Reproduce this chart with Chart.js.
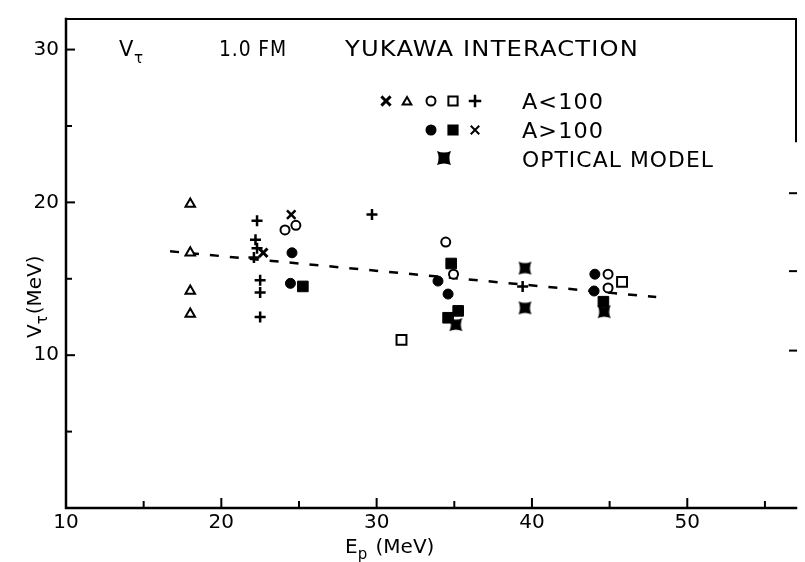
<!DOCTYPE html>
<html><head><meta charset="utf-8">
<script src="https://cdn.jsdelivr.net/npm/chart.js@4.4.1/dist/chart.umd.min.js"></script>
<style>html,body{margin:0;padding:0;background:#fff}#wrap{width:805px;height:562px;position:relative}</style>
</head><body><div id="wrap"><canvas id="c" width="805" height="562"></canvas></div>
<script>
// ---- tick definitions ----
const xTickMarks = [15,20,25,30,35,40,45,50,55];
const xTickLabels = [10,20,30,40,50];
const yTickMarks = [5,10,15,20,25,30];
const yTickLabels = [10,20,30];
const rightTickMarks = [20.6,15.5,10.3];

// ---- data (E_p MeV, V_tau MeV) ----
// A < 100
const triOpen   = [{x:18.0,y:19.9},{x:18.0,y:16.7},{x:18.0,y:14.2},{x:18.0,y:12.7}];
const circOpen  = [{x:24.1,y:18.2},{x:24.8,y:18.5},{x:34.45,y:17.4},{x:34.95,y:15.3},{x:44.9,y:15.3},{x:44.9,y:14.4}];
const sqOpen    = [{x:31.6,y:11.0},{x:45.8,y:14.8}];
const plusPts   = [{x:22.3,y:18.8},{x:22.2,y:17.55},{x:22.3,y:17.0},{x:22.1,y:16.4},{x:22.5,y:14.9},{x:22.5,y:14.1},{x:22.5,y:12.5},{x:29.7,y:19.2},{x:39.4,y:14.5}];
const boldX     = [{x:22.7,y:16.7}];
// A > 100
const circFill  = [{x:24.55,y:16.7},{x:24.45,y:14.7},{x:33.95,y:14.85},{x:34.6,y:14.0},{x:44.05,y:15.3},{x:44.0,y:14.2}];
const sqFill    = [{x:25.25,y:14.5},{x:34.8,y:16.0},{x:35.25,y:12.9},{x:34.6,y:12.45},{x:44.6,y:13.5}];
const thinX     = [{x:24.5,y:19.2}];
// Optical model
const optical   = [{x:39.55,y:15.7},{x:39.55,y:13.1},{x:35.1,y:12.0},{x:44.65,y:12.85}];
// dashed trend line
const trendLine = [{x:16.7,y:16.8},{x:48.0,y:13.8}];

function makeBowtie(size){
  const c=document.createElement('canvas'); c.width=size; c.height=size;
  const g=c.getContext('2d'); const a=1, b=size-1, m=size/2, d=size*0.2;
  g.fillStyle='#000'; g.beginPath();
  g.moveTo(a,a);
  g.quadraticCurveTo(m,a+d,b,a);
  g.quadraticCurveTo(b-d,m,b,b);
  g.quadraticCurveTo(m,b-d,a,b);
  g.quadraticCurveTo(a+d,m,a,a);
  g.closePath(); g.fill();
  return c;
}
const bowtie = makeBowtie(15);
const bowtieBig = makeBowtie(16);

const FONT = '"DejaVu Sans", "Liberation Sans", sans-serif';

function fitText(ctx, text, x, y, w, spacing){
  ctx.save();
  ctx.letterSpacing=(spacing||0)+'px';
  const m = ctx.measureText(text).width;
  const sx = w/m;
  ctx.translate(x,y); ctx.scale(sx,1);
  ctx.textAlign='left';
  ctx.fillText(text,0,0);
  ctx.restore();
}

const decor = {
  id:'decor',
  afterDraw(chart){
    const ctx=chart.ctx, ca=chart.chartArea, xs=chart.scales.x, ys=chart.scales.y;
    ctx.save();
    ctx.strokeStyle='#000'; ctx.fillStyle='#000'; ctx.lineCap='square';
    ctx.lineWidth=2.5;
    ctx.beginPath();
    ctx.moveTo(ca.left, ca.top); ctx.lineTo(ca.left, ca.bottom); ctx.lineTo(ca.right, ca.bottom);
    ctx.stroke();
    ctx.lineWidth=2;
    ctx.beginPath();
    ctx.moveTo(ca.left, ca.top); ctx.lineTo(ca.right, ca.top);
    ctx.lineTo(ca.right, ys.getPixelForValue(24));
    ctx.stroke();
    ctx.lineWidth=2;
    xTickMarks.forEach(v=>{
      const p=xs.getPixelForValue(v), L = (v%10===0)?9:6;
      ctx.beginPath(); ctx.moveTo(p,ca.bottom); ctx.lineTo(p,ca.bottom-L); ctx.stroke();
    });
    yTickMarks.forEach(v=>{
      const p=ys.getPixelForValue(v), L=(v%10===0)?8:5;
      ctx.beginPath(); ctx.moveTo(ca.left,p); ctx.lineTo(ca.left+L,p); ctx.stroke();
    });
    rightTickMarks.forEach(v=>{
      const p=ys.getPixelForValue(v);
      ctx.beginPath(); ctx.moveTo(ca.right-6,p); ctx.lineTo(ca.right,p); ctx.stroke();
    });

    ctx.textBaseline='alphabetic'; ctx.textAlign='left';
    ctx.font='21px '+FONT;
    ctx.fillText('V',119,56);
    ctx.font='15px '+FONT;
    ctx.fillText('τ',134,63);
    ctx.font='21px '+FONT;
    fitText(ctx,'1.0 FM',219,56,68,1);
    fitText(ctx,'YUKAWA INTERACTION',345,56,294,1);

    ctx.font='21px '+FONT;
    fitText(ctx,'A<100',522,109,82,1);
    fitText(ctx,'A>100',522,138,82,1);
    fitText(ctx,'OPTICAL MODEL',522,167,192,1);

    const H=Chart.helpers;
    function sym(style,x,y,r,bw,fill){
      ctx.lineWidth=bw; ctx.strokeStyle='#000'; ctx.fillStyle=fill;
      H.drawPoint(ctx,{pointStyle:style,radius:r,rotation:0,borderWidth:bw},x,y);
    }
    sym('crossRot',386,101,5,3,'#000');
    sym('triangle',407,102,5,2,'#fff');
    sym('circle',431,101,4.5,2,'#fff');
    sym('rect',453,101,6.5,2,'#fff');
    sym('cross',475,101,5,2.5,'#000');
    sym('circle',431,130,4.5,2,'#000');
    sym('rect',453,130,6.5,2,'#000');
    sym('crossRot',475,130,5,2,'#000');
    ctx.drawImage(bowtieBig,444-8,158-8);

    ctx.fillStyle='#000';
    ctx.font='20px '+FONT;
    ctx.save();
    ctx.translate(41,282); ctx.rotate(-Math.PI/2);
    ctx.textAlign='left';
    let x0=-56;
    ctx.fillText('V',x0,0); let wV=ctx.measureText('V').width;
    ctx.font='15px '+FONT; ctx.fillText('τ',x0+wV,6); let wt=ctx.measureText('τ').width;
    ctx.font='20px '+FONT; ctx.fillText('(MeV)',x0+wV+wt+1,0);
    ctx.restore();

    ctx.textAlign='left';
    ctx.font='20px '+FONT;
    let ex=345;
    ctx.fillText('E',ex,553); let wE=ctx.measureText('E').width;
    ctx.font='15px '+FONT; ctx.fillText('p',ex+wE,559); let wp=ctx.measureText('p').width;
    ctx.font='20px '+FONT; ctx.fillText(' (MeV)',ex+wE+wp+2,553);
    ctx.restore();
  }
};

const ptBase = {borderColor:'#000', showLine:false, order:0};
new Chart(document.getElementById('c'), {
  type:'scatter',
  data:{datasets:[
    {label:'trend', type:'line', data:trendLine, borderColor:'#000', borderWidth:2.5, borderDash:[9,11], pointRadius:0, fill:false, order:5},
    {...ptBase, label:'A<100 triangle', data:triOpen, pointStyle:'triangle', pointRadius:5.5, pointBorderWidth:2, backgroundColor:'#fff'},
    {...ptBase, label:'A<100 circle', data:circOpen, pointStyle:'circle', pointRadius:4.5, pointBorderWidth:2, backgroundColor:'#fff'},
    {...ptBase, label:'A<100 square', data:sqOpen, pointStyle:'rect', pointRadius:7, pointBorderWidth:2, backgroundColor:'#fff'},
    {...ptBase, label:'A<100 plus', data:plusPts, pointStyle:'cross', pointRadius:5.5, pointBorderWidth:2.5, backgroundColor:'#000'},
    {...ptBase, label:'A<100 x', data:boldX, pointStyle:'crossRot', pointRadius:6, pointBorderWidth:3, backgroundColor:'#000'},
    {...ptBase, label:'A>100 circle', data:circFill, pointStyle:'circle', pointRadius:5, pointBorderWidth:1, backgroundColor:'#000'},
    {...ptBase, label:'A>100 square', data:sqFill, pointStyle:'rect', pointRadius:7.5, pointBorderWidth:1, backgroundColor:'#000'},
    {...ptBase, label:'A>100 x', data:thinX, pointStyle:'crossRot', pointRadius:6, pointBorderWidth:2.5, backgroundColor:'#000'},
    {...ptBase, label:'Optical model', data:optical, pointStyle:bowtie, pointRadius:7, backgroundColor:'#000'}
  ]},
  options:{
    responsive:false, animation:false, devicePixelRatio:1,
    layout:{padding:{top:17,right:3,left:0,bottom:0}},
    plugins:{legend:{display:false}, tooltip:{enabled:false}},
    scales:{
      x:{type:'linear', min:10, max:57, position:'bottom',
         afterFit(s){s.height=54;},
         afterBuildTicks(s){s.ticks=xTickLabels.map(v=>({value:v}));},
         grid:{display:false, drawTicks:false}, border:{display:false},
         ticks:{color:'#000', font:{family:FONT,size:20}, padding:3, maxRotation:0, autoSkip:false}},
      y:{type:'linear', min:0, max:32, position:'left',
         afterFit(s){s.width=66;},
         afterBuildTicks(s){s.ticks=yTickLabels.map(v=>({value:v}));},
         grid:{display:false, drawTicks:false}, border:{display:false},
         ticks:{color:'#000', font:{family:FONT,size:20}, padding:7, autoSkip:false}}
    }
  },
  plugins:[decor]
});
</script>
</body></html>
